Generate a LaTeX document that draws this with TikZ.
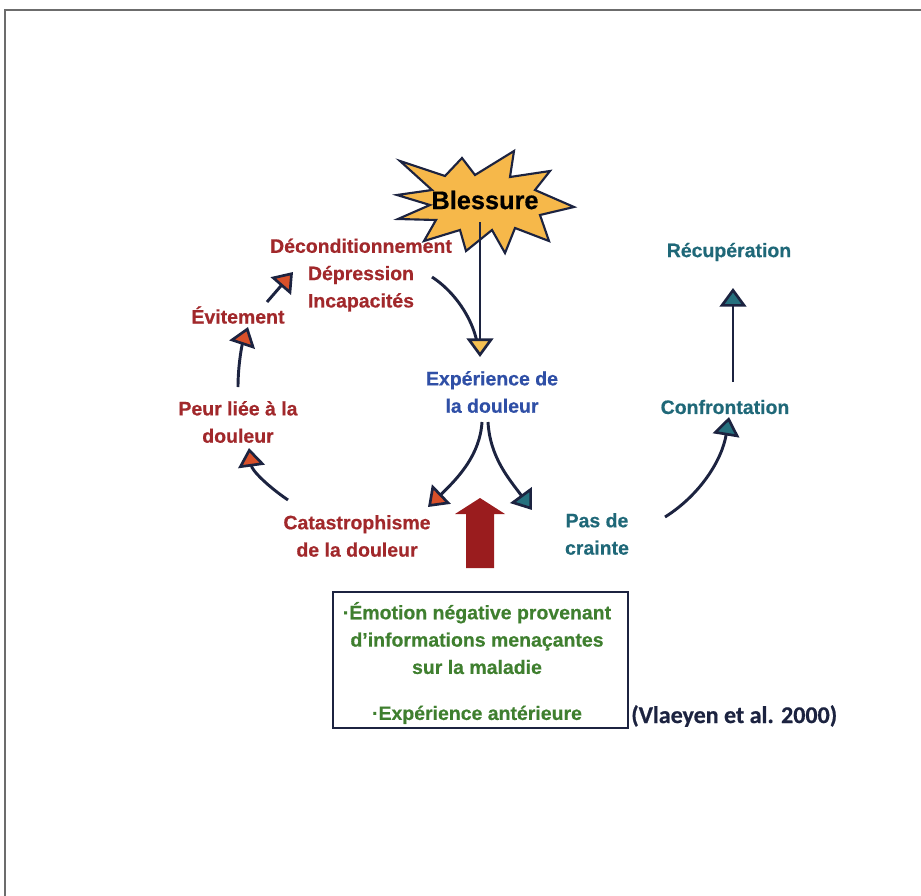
\documentclass[tikz,border=0pt]{standalone}
\usepackage{fontspec}
\setmainfont{Liberation Sans}[BoldFeatures={FakeBold=0.5}]
\newfontfamily\citefont{Carlito}[BoldFeatures={FakeBold=0.6}]
\usetikzlibrary{arrows.meta}

\definecolor{lineblue}{HTML}{1C2340}
\definecolor{redtext}{HTML}{A1282B}
\definecolor{bluetext}{HTML}{2F4FA6}
\definecolor{tealtext}{HTML}{1F6878}
\definecolor{greentext}{HTML}{3F7F2F}
\definecolor{starfill}{HTML}{F6B84A}
\definecolor{tipred}{HTML}{D8502A}
\definecolor{tipteal}{HTML}{25707E}
\definecolor{tipyellow}{HTML}{F5C052}
\definecolor{bigred}{HTML}{9A1C1E}

\begin{document}
\begin{tikzpicture}[x=0.75pt, y=-0.75pt,
  lbl/.style={font=\bfseries\fontsize{14.6}{20.5}\selectfont, align=center, inner sep=0pt},
  conn/.style={draw=lineblue, line width=2.2pt},
  tipR/.style={-{Triangle[length=14pt,width=20pt,fill=tipred,line width=2pt]}},
  tipT/.style={-{Triangle[length=14pt,width=20pt,fill=tipteal,line width=2pt]}},
  tipY/.style={-{Triangle[length=14pt,width=20pt,fill=tipyellow,line width=2pt]}}]

\useasboundingbox (0,0) rectangle (921,896);

% outer frame (top and left edges)
\draw[gray!85!black, line width=1.2pt] (5,896) -- (5,10) -- (921,10);

% starburst
\draw[lineblue, line width=1.6pt, fill=starfill, line join=miter]
  (397,195) -- (432,190) -- (400,161) -- (445,176) -- (462,158) -- (475,175)
  -- (514,151) -- (510,177) -- (550,171) -- (535,190) -- (574,207) -- (540,215)
  -- (549,241) -- (515,228) -- (505,253) -- (492,230) -- (466,251) -- (460,230)
  -- (424,241) -- (436,220) -- (398,219) -- (430,205) -- cycle;
\node[inner sep=0pt, font=\bfseries\fontsize{19}{22}\selectfont] (bless) at (485,200) {Blessure};

% labels
\node[lbl, text=redtext]   (decond) at (361,275) {Déconditionnement\\Dépression\\Incapacités};
\node[lbl, text=redtext]   (evit)   at (238,315) {Évitement};
\node[lbl, text=redtext]   (peur)   at (238,422) {Peur liée à la\\douleur};
\node[lbl, text=redtext]   (cata)   at (357,536) {Catastrophisme\\de la douleur};
\node[lbl, text=bluetext]  (exper)  at (492,392) {Expérience de\\la douleur};
\node[lbl, text=tealtext]  (pas)    at (597,534) {Pas de\\crainte};
\node[lbl, text=tealtext]  (confr)  at (725,407) {Confrontation};
\node[lbl, text=tealtext]  (recup)  at (729,252) {Récupération};

% box of contributing factors
\node[draw=lineblue, line width=1.5pt, minimum width=221pt, minimum height=102pt, inner sep=0pt]
  (box) at (480.5,660) {};
\node[lbl, text=greentext] (boxtext) at (477,663)
  {·Émotion négative provenant\\d’informations menaçantes\\sur la maladie\\[14pt]·Expérience antérieure};
\node[inner sep=0pt, text=lineblue, font=\citefont\bfseries\fontsize{18}{20}\selectfont, anchor=west]
  (cite) at (631,716) {(Vlaeyen et al. 2000)};

% large upward arrow into the cycle
\fill[bigred] (480,498) -- (505,514) -- (494,514) -- (494,568) -- (466,568) -- (466,514) -- (455,514) -- cycle;

% connectors
\draw[conn] ([shift={(71,2)}]decond.center) .. controls (455,292) and (472,318) .. ([shift={(-15,-50)}]exper.center);
\draw[conn, tipY] ([shift={(-5,22)}]bless.center) -- ([shift={(-12,-35)}]exper.center);
\draw[conn, tipR] ([shift={(-10,30)}]exper.center) .. controls (480,455) and (458,478) .. ([shift={(71,-29)}]cata.center);
\draw[conn, tipT] ([shift={(-4,30)}]exper.center) .. controls (490,458) and (510,480) .. ([shift={(-65,-24)}]pas.center);
\draw[conn, tipR] ([shift={(-69,-36)}]cata.center) .. controls (266,485) and (252,470) .. ([shift={(11,26)}]peur.center);
\draw[conn, tipR] ([shift={(0,-35)}]peur.center) .. controls (238,365) and (242,345) .. ([shift={(10,12)}]evit.center);
\draw[conn, tipR] ([shift={(29,-13)}]evit.center) -- ([shift={(-68,-3)}]decond.center);
\draw[conn, tipT] ([shift={(68,-17)}]pas.center) .. controls (700,495) and (722,460) .. ([shift={(4,10)}]confr.center);
\draw[conn, tipT] ([shift={(8,-25)}]confr.center) -- ([shift={(4,36)}]recup.center);

\end{tikzpicture}
\end{document}
